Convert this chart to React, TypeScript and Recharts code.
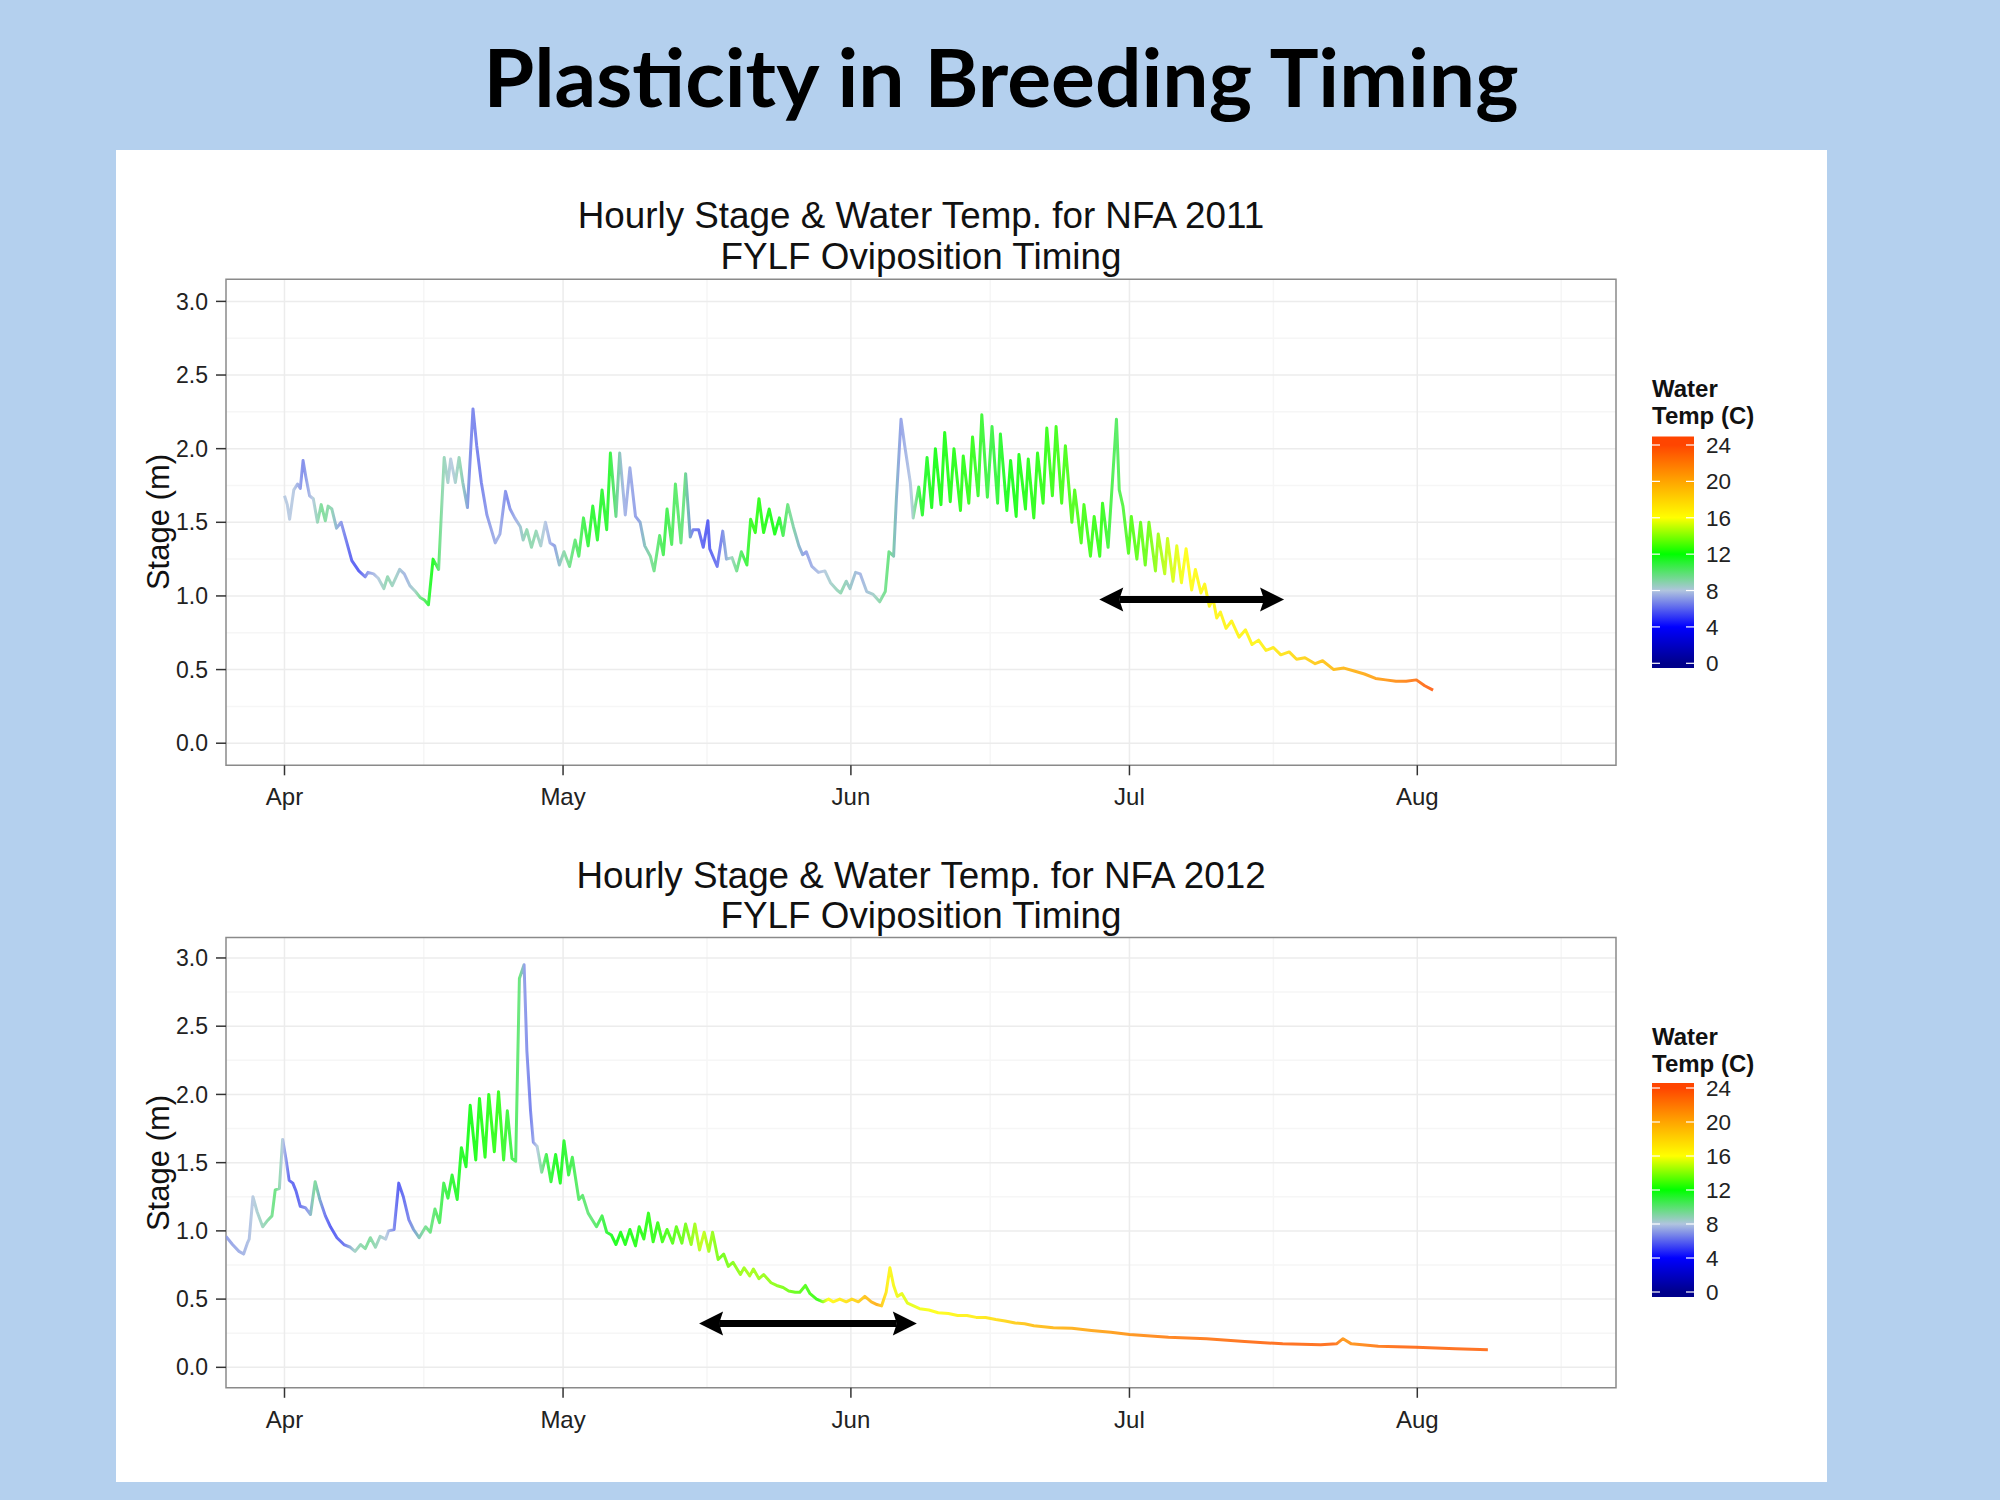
import React from "react";
import {
  LineChart,
  Line,
  XAxis,
  YAxis,
  CartesianGrid,
  ReferenceLine,
  ReferenceArea,
} from "recharts";

// days counted from April 1st
const monthTicks = [0, 30, 61, 91, 122];
const monthLabels = ["Apr", "May", "Jun", "Jul", "Aug"];
const minorDayTicks = [15, 45.5, 76, 106.5, 137.5];
const stageTicks = [0, 0.5, 1, 1.5, 2, 2.5, 3];
const minorStageTicks = [0.25, 0.75, 1.25, 1.75, 2.25, 2.75];
const legendTicks = [0, 4, 8, 12, 16, 20, 24];
const legendColors = ["#00008b", "#0000ff", "#b0c4de", "#00ff00", "#ffff00", "#ffa500", "#ff4500"];

// [day, stage (m)]
const stage2011: [number, number][] = [
  [0, 1.68], [0.3, 1.62], [0.55, 1.52], [1.0, 1.72], [1.4, 1.76], [1.7, 1.73], [2.0, 1.92], [2.3, 1.81],
  [2.7, 1.68], [3.1, 1.66], [3.55, 1.5], [3.95, 1.62], [4.4, 1.51], [4.7, 1.61], [5.1, 1.59], [5.6, 1.46],
  [6.1, 1.5], [6.5, 1.41], [7.25, 1.24], [8.0, 1.17], [8.7, 1.13], [9.0, 1.16], [9.6, 1.15], [10.1, 1.12],
  [10.7, 1.05], [11.1, 1.13], [11.6, 1.07], [12.4, 1.18], [12.9, 1.15], [13.5, 1.07], [14.1, 1.03], [14.6, 0.99],
  [15.1, 0.97], [15.5, 0.94], [16.0, 1.25], [16.6, 1.18], [17.2, 1.94], [17.6, 1.77], [17.9, 1.93], [18.4, 1.77],
  [18.8, 1.94], [19.2, 1.77], [19.7, 1.6], [20.3, 2.27], [20.7, 2.02], [21.2, 1.77], [21.8, 1.55], [22.7, 1.36],
  [23.2, 1.42], [23.8, 1.71], [24.3, 1.59], [24.8, 1.53], [25.4, 1.47], [25.7, 1.38], [26.1, 1.45], [26.6, 1.33],
  [27.1, 1.44], [27.6, 1.34], [28.1, 1.5], [28.6, 1.36], [29.1, 1.34], [29.6, 1.21], [30.1, 1.3], [30.7, 1.2],
  [31.3, 1.38], [31.7, 1.27], [32.2, 1.53], [32.7, 1.34], [33.2, 1.61], [33.7, 1.38], [34.2, 1.72], [34.7, 1.45],
  [35.1, 1.97], [35.7, 1.54], [36.1, 1.97], [36.7, 1.55], [37.2, 1.87], [37.8, 1.54], [38.3, 1.5], [38.8, 1.34],
  [39.4, 1.27], [39.8, 1.17], [40.4, 1.41], [40.8, 1.28], [41.2, 1.59], [41.7, 1.35], [42.1, 1.76], [42.7, 1.36],
  [43.2, 1.83], [43.7, 1.4], [44.0, 1.45], [44.6, 1.45], [45.1, 1.33], [45.6, 1.51], [45.8, 1.32], [46.6, 1.2],
  [47.2, 1.44], [47.6, 1.25], [48.2, 1.26], [48.7, 1.17], [49.2, 1.3], [49.8, 1.21], [50.2, 1.52], [50.7, 1.43],
  [51.1, 1.66], [51.6, 1.43], [52.2, 1.59], [52.8, 1.42], [53.3, 1.53], [53.7, 1.41], [54.2, 1.62], [54.8, 1.47],
  [55.4, 1.34], [55.8, 1.28], [56.2, 1.3], [56.8, 1.2], [57.5, 1.16], [58.2, 1.17], [58.8, 1.09], [59.5, 1.04],
  [59.9, 1.02], [60.5, 1.1], [60.9, 1.05], [61.5, 1.16], [62.0, 1.15], [62.7, 1.03], [63.4, 1.01], [64.1, 0.96],
  [64.7, 1.03], [65.1, 1.3], [65.6, 1.27], [65.9, 1.66], [66.4, 2.2], [66.8, 2.02], [67.4, 1.77], [67.7, 1.53],
  [68.3, 1.74], [68.7, 1.55], [69.2, 1.94], [69.7, 1.6], [70.1, 2.0], [70.7, 1.62], [71.1, 2.11], [71.7, 1.64],
  [72.1, 2.0], [72.8, 1.58], [73.1, 1.95], [73.7, 1.63], [74.1, 2.08], [74.7, 1.68], [75.1, 2.23], [75.7, 1.67],
  [76.2, 2.15], [76.8, 1.63], [77.1, 2.1], [77.8, 1.58], [78.2, 1.92], [78.8, 1.54], [79.1, 1.96], [79.8, 1.59],
  [80.1, 1.93], [80.7, 1.53], [81.1, 1.97], [81.7, 1.63], [82.1, 2.14], [82.7, 1.68], [83.1, 2.15], [83.7, 1.63],
  [84.1, 2.02], [84.8, 1.5], [85.1, 1.72], [85.8, 1.36], [86.1, 1.62], [86.8, 1.27], [87.2, 1.54], [87.8, 1.27],
  [88.1, 1.63], [88.7, 1.33], [89.2, 1.81], [89.6, 2.2], [89.9, 1.72], [90.3, 1.61], [90.9, 1.29], [91.2, 1.54],
  [91.8, 1.25], [92.2, 1.5], [92.7, 1.21], [93.1, 1.5], [93.8, 1.17], [94.1, 1.42], [94.8, 1.15], [95.1, 1.39],
  [95.7, 1.1], [96.1, 1.34], [96.6, 1.09], [97.1, 1.32], [97.7, 1.04], [98.1, 1.18], [98.7, 1.02], [99.1, 1.08],
  [99.6, 0.93], [100.0, 0.98], [100.4, 0.85], [100.8, 0.89], [101.4, 0.78], [102.0, 0.83], [102.8, 0.72], [103.5, 0.77],
  [104.2, 0.67], [104.9, 0.7], [105.7, 0.63], [106.5, 0.65], [107.3, 0.6], [108.2, 0.62], [109.0, 0.57], [109.9, 0.58],
  [111.0, 0.54], [111.8, 0.56], [113.0, 0.5], [114.1, 0.51], [115.2, 0.49], [116.3, 0.47], [117.5, 0.44], [118.6, 0.43],
  [119.7, 0.42], [120.8, 0.42], [121.9, 0.43], [122.8, 0.39], [123.7, 0.36],
];

// [day, water temp (C)]
const temp2011: [number, number][] = [
  [0, 8], [1, 8], [2, 6.5], [3, 8], [4, 9.5], [5, 9], [6, 7], [7, 5.8], [8, 5.5], [9, 7], [10, 8], [11, 9],
  [12, 8.5], [13, 7.5], [14, 8.5], [15, 10.5], [16, 12], [17, 9], [18, 8], [19, 9], [20, 6.5], [21, 6.3],
  [22, 7], [23, 7.5], [24, 6.5], [25, 7.5], [26, 9], [27, 9], [28, 8], [29, 7], [30, 9], [31, 10],
  [33, 11.5], [35, 11.5], [36.5, 7.5], [38, 7], [39.5, 9.5], [41, 11], [43, 10], [44, 6.3], [45.5, 5.5],
  [47, 6.3], [48, 8.5], [49.5, 11], [50.5, 12.5], [53, 12], [54.5, 9.5], [56, 7], [58, 8], [60, 9],
  [62, 7.5], [63.5, 8.5], [65, 10], [66.3, 7], [67.5, 8], [68.5, 11.5], [70, 12], [74, 12.5], [76, 11],
  [78, 12], [82, 12.5], [85, 13], [88, 12.5], [89.6, 10.5], [91, 13], [93, 13.5], [95, 15], [97, 16],
  [100, 16.5], [105, 16.5], [108, 17.5], [112, 19], [116, 20], [120, 21.5], [123.7, 23.5],
];

const arrow2011 = [87.75, 107.65, 0.976];

const stage2012: [number, number][] = [
  [-6.3, 0.96], [-5.6, 0.9], [-4.9, 0.85], [-4.4, 0.83], [-4.0, 0.91], [-3.8, 0.94], [-3.4, 1.25], [-2.95, 1.14],
  [-2.35, 1.03], [-1.9, 1.07], [-1.35, 1.11], [-1.0, 1.3], [-0.55, 1.31], [-0.2, 1.67], [0.15, 1.53], [0.5, 1.37],
  [0.9, 1.35], [1.25, 1.29], [1.7, 1.18], [2.25, 1.17], [2.8, 1.12], [3.3, 1.36], [3.8, 1.23], [4.4, 1.11],
  [4.95, 1.03], [5.65, 0.95], [6.4, 0.9], [7.1, 0.88], [7.6, 0.85], [8.2, 0.9], [8.7, 0.87], [9.25, 0.95],
  [9.8, 0.88], [10.3, 0.96], [10.9, 0.94], [11.2, 1.0], [11.8, 1.01], [12.3, 1.35], [12.8, 1.25], [13.4, 1.08],
  [13.9, 1.01], [14.5, 0.95], [15.2, 1.03], [15.7, 0.99], [16.2, 1.16], [16.7, 1.06], [17.15, 1.35], [17.6, 1.24],
  [18.05, 1.41], [18.6, 1.23], [19.05, 1.61], [19.55, 1.47], [20.0, 1.92], [20.6, 1.52], [21.0, 1.97], [21.6, 1.54],
  [22.0, 2.0], [22.6, 1.58], [23.05, 2.02], [23.6, 1.52], [24.0, 1.88], [24.5, 1.53], [24.9, 1.51], [25.3, 2.85],
  [25.8, 2.95], [26.1, 2.32], [26.5, 1.88], [26.8, 1.65], [27.2, 1.62], [27.7, 1.43], [28.2, 1.56], [28.7, 1.36],
  [29.2, 1.56], [29.7, 1.35], [30.1, 1.66], [30.6, 1.41], [31.0, 1.54], [31.7, 1.23], [32.1, 1.26], [32.7, 1.13],
  [33.6, 1.03], [34.2, 1.11], [34.7, 0.99], [35.2, 0.97], [35.7, 0.9], [36.2, 0.99], [36.7, 0.9], [37.2, 1.01],
  [37.8, 0.89], [38.2, 1.03], [38.7, 0.94], [39.2, 1.13], [39.7, 0.92], [40.2, 1.06], [40.7, 0.92], [41.2, 1.01],
  [41.8, 0.91], [42.2, 1.03], [42.8, 0.91], [43.2, 1.05], [43.8, 0.9], [44.2, 1.05], [44.7, 0.86], [45.2, 0.99],
  [45.7, 0.85], [46.1, 0.99], [46.7, 0.79], [47.3, 0.83], [47.8, 0.74], [48.3, 0.77], [49.1, 0.68], [49.5, 0.73],
  [50.1, 0.67], [50.5, 0.72], [51.1, 0.65], [51.6, 0.68], [52.4, 0.62], [53.0, 0.6], [53.7, 0.585], [54.3, 0.56],
  [55.0, 0.55], [55.5, 0.55], [56.1, 0.6], [56.6, 0.54], [57.3, 0.5], [58.0, 0.48], [58.6, 0.5], [59.1, 0.48],
  [59.8, 0.5], [60.5, 0.48], [61.1, 0.5], [61.8, 0.48], [62.5, 0.52], [63.2, 0.48], [63.8, 0.46], [64.3, 0.45],
  [64.8, 0.55], [65.2, 0.73], [65.6, 0.6], [66.0, 0.52], [66.5, 0.54], [67.1, 0.47], [68.4, 0.43], [69.4, 0.42],
  [70.4, 0.4], [71.5, 0.395], [72.5, 0.38], [73.5, 0.38], [74.5, 0.366], [75.5, 0.365], [76.6, 0.35], [77.6, 0.34],
  [78.7, 0.325], [79.7, 0.32], [80.7, 0.305], [82.8, 0.29], [84.8, 0.286], [86.9, 0.27], [89.0, 0.257], [91.0, 0.24],
  [95.2, 0.22], [99.3, 0.21], [103.4, 0.19], [107.5, 0.172], [111.6, 0.165], [113.3, 0.172], [114.0, 0.21], [114.9, 0.172],
  [117.8, 0.155], [121.9, 0.148], [126.1, 0.136], [129.6, 0.128],
];

const temp2012: [number, number][] = [
  [-6.3, 7], [-4.4, 7.5], [-3.4, 8], [-2, 9], [-1, 10], [-0.2, 8], [0.5, 5.8], [1.5, 5.8], [2.5, 7], [3.3, 9.5],
  [4.2, 6.3], [5, 5.5], [6.4, 6], [7.5, 8.5], [9, 9.5], [11, 8], [12.3, 5.5], [13.5, 6.5], [15, 9.5], [16.5, 10.5],
  [18, 11.5], [20, 12], [23, 12.5], [24.6, 11], [25.3, 10], [25.8, 7], [26.5, 6.3], [27.2, 8], [28.2, 11], [29.5, 12],
  [31.5, 10.5], [33, 10], [35.5, 12], [40, 12.5], [43, 13.5], [45, 15], [47, 13.5], [50, 14.5], [53, 14],
  [56, 13], [57.5, 12.5], [58.5, 16], [60, 17], [62, 18.5], [63.8, 20], [65, 16.5], [67, 15.5], [70, 16],
  [75, 17], [80, 19], [88, 20.5], [95, 22], [105, 23], [113, 23], [114, 21], [120, 23], [129.6, 23],
];

const arrow2012 = [44.65, 68.1, 0.322];

const xDomain = [-6.3, 143.4];
const yDomain = [-0.15, 3.15];
const FONT = "'Liberation Sans', Arial, sans-serif";

function tempColor(t: number) {
  const c = Math.max(0, Math.min(24, t));
  const i = Math.min(Math.floor(c / 4), 5);
  const f = (c - legendTicks[i]) / 4;
  const a = legendColors[i];
  const b = legendColors[i + 1];
  const ch = (s: string, k: number) => parseInt(s.slice(1 + k * 2, 3 + k * 2), 16);
  const mix = [0, 1, 2].map((k) => Math.round(ch(a, k) + (ch(b, k) - ch(a, k)) * f));
  return `rgb(${mix[0]},${mix[1]},${mix[2]})`;
}

function ArrowShape(props: any) {
  const { x1, y1, x2 } = props;
  const xa = Math.min(x1, x2);
  const xb = Math.max(x1, x2);
  const y = y1;
  const head = 24;
  const half = 12;
  return (
    <g>
      <line x1={xa + head - 4} y1={y} x2={xb - head + 4} y2={y} stroke="#000" strokeWidth={7} />
      <polygon points={`${xa},${y} ${xa + head},${y - half} ${xa + head - 4},${y} ${xa + head},${y + half}`} fill="#000" />
      <polygon points={`${xb},${y} ${xb - head},${y - half} ${xb - head + 4},${y} ${xb - head},${y + half}`} fill="#000" />
    </g>
  );
}

type ChartProps = {
  id: string;
  stages: [number, number][];
  temps: [number, number][];
  arrow: number[];
  top: number;
  height: number;
  plotTop: number;
  plotBottom: number;
};

function StageChart({ id, stages, temps, arrow, top, height, plotTop, plotBottom }: ChartProps) {
  const rows = stages.map(([day, stage]) => ({ day, stage }));
  const d0 = stages[0][0];
  const d1 = stages[stages.length - 1][0];
  return (
    <div style={{ position: "absolute", left: 0, top, width: 1640, height }}>
      <LineChart
        width={1640}
        height={height}
        data={rows}
        margin={{ top: plotTop - top, right: 24, left: 146, bottom: top + height - plotBottom - 50 }}
      >
        <defs>
          <linearGradient id={id} x1="0" y1="0" x2="1" y2="0">
            {temps.map(([day, t]) => (
              <stop key={day} offset={Math.max(0, Math.min(1, (day - d0) / (d1 - d0)))} stopColor={tempColor(t)} />
            ))}
          </linearGradient>
        </defs>
        <CartesianGrid
          stroke="#f6f6f6"
          strokeWidth={1.5}
          horizontalValues={minorStageTicks}
          verticalValues={minorDayTicks}
        />
        <CartesianGrid
          stroke="#ececec"
          strokeWidth={1.5}
          horizontalValues={stageTicks}
          verticalValues={monthTicks}
        />
        <XAxis
          dataKey="day"
          type="number"
          domain={xDomain}
          allowDataOverflow
          ticks={monthTicks}
          tickFormatter={(v) => monthLabels[monthTicks.indexOf(v)]}
          height={50}
          tickSize={10}
          tickMargin={13}
          axisLine={false}
          tickLine={{ stroke: "#333", strokeWidth: 1.5 }}
          tick={{ fill: "#222", fontSize: 24, fontFamily: FONT }}
        />
        <YAxis
          type="number"
          domain={yDomain}
          allowDataOverflow
          ticks={stageTicks}
          tickFormatter={(v) => Number(v).toFixed(1)}
          width={80}
          tickSize={10}
          tickMargin={8}
          axisLine={false}
          tickLine={{ stroke: "#333", strokeWidth: 1.5 }}
          tick={{ fill: "#222", fontSize: 23, fontFamily: FONT }}
        />
        <ReferenceArea
          x1={xDomain[0]}
          x2={xDomain[1]}
          y1={yDomain[0]}
          y2={yDomain[1]}
          fill="none"
          fillOpacity={0}
          stroke="#8a8a8a"
          strokeWidth={1.5}
          ifOverflow="visible"
        />
        <Line
          dataKey="stage"
          type="linear"
          dot={false}
          stroke={`url(#${id})`}
          strokeWidth={3}
          strokeOpacity={0.85}
          strokeLinejoin="round"
          isAnimationActive={false}
        />
        <ReferenceLine
          segment={[
            { x: arrow[0], y: arrow[2] },
            { x: arrow[1], y: arrow[2] },
          ]}
          shape={ArrowShape}
          ifOverflow="visible"
        />
      </LineChart>
    </div>
  );
}

function TempLegend({ id, titleY, barTop, barBottom, y0, y24 }: any) {
  const x = 1652;
  const w = 42;
  const scale = (t: number) => y0 + ((y24 - y0) * t) / 24;
  const tTop = ((barTop - y0) * 24) / (y24 - y0);
  const tBottom = ((barBottom - y0) * 24) / (y24 - y0);
  return (
    <g fontFamily={FONT}>
      <defs>
        <linearGradient id={id} x1="0" y1="0" x2="0" y2="1">
          {[...legendTicks].reverse().map((t) => (
            <stop key={t} offset={(t - tTop) / (tBottom - tTop)} stopColor={tempColor(t)} />
          ))}
        </linearGradient>
      </defs>
      <text x={x} y={titleY} fontSize={24} fontWeight="bold" fill="#111">Water</text>
      <text x={x} y={titleY + 27} fontSize={24} fontWeight="bold" fill="#111">Temp (C)</text>
      <rect x={x} y={barTop} width={w} height={barBottom - barTop} fill={`url(#${id})`} />
      {legendTicks.map((t) => (
        <g key={t}>
          <line x1={x} x2={x + 8} y1={scale(t)} y2={scale(t)} stroke="#fff" strokeWidth={1.2} />
          <line x1={x + w - 8} x2={x + w} y1={scale(t)} y2={scale(t)} stroke="#fff" strokeWidth={1.2} />
          <text x={x + 54} y={scale(t)} dy="0.36em" fontSize={22.5} fill="#222">{t}</text>
        </g>
      ))}
    </g>
  );
}

export default function App() {
  return (
    <div style={{ position: "absolute", left: 0, top: 0, width: 2000, height: 1500, background: "#b4d0ee", overflow: "hidden" }}>
      <div style={{ position: "absolute", left: 116, top: 150, width: 1711, height: 1332, background: "#ffffff" }} />
      <StageChart id="g2011" stages={stage2011} temps={temp2011} arrow={arrow2011} top={150} height={700} plotTop={279.3} plotBottom={765.3} />
      <StageChart id="g2012" stages={stage2012} temps={temp2012} arrow={arrow2012} top={860} height={620} plotTop={937.5} plotBottom={1387.8} />
      <svg width={2000} height={1500} style={{ position: "absolute", left: 0, top: 0, pointerEvents: "none" }}>
        <text x={1001} y={107} textAnchor="middle" fontFamily="Lato, 'Open Sans', sans-serif" fontWeight="bold" fontSize={80} textLength={1035} lengthAdjust="spacingAndGlyphs" fill="#000">
          Plasticity in Breeding Timing
        </text>
        <g fontFamily={FONT} fill="#111" textAnchor="middle">
          <text x={921} y={228} fontSize={36.8}>Hourly Stage &amp; Water Temp. for NFA 2011</text>
          <text x={921} y={269} fontSize={36.8}>FYLF Oviposition Timing</text>
          <text x={921} y={888} fontSize={36.8}>Hourly Stage &amp; Water Temp. for NFA 2012</text>
          <text x={921} y={928} fontSize={36.8}>FYLF Oviposition Timing</text>
          <text x={158} y={522} fontSize={31} dy="0.35em" transform="rotate(-90 158 522)">Stage (m)</text>
          <text x={158} y={1163} fontSize={31} dy="0.35em" transform="rotate(-90 158 1163)">Stage (m)</text>
        </g>
        <TempLegend id="leg2011" titleY={397} barTop={436.5} barBottom={668} y0={663.3} y24={445} />
        <TempLegend id="leg2012" titleY={1045} barTop={1083} barBottom={1297} y0={1292} y24={1088} />
      </svg>
    </div>
  );
}
